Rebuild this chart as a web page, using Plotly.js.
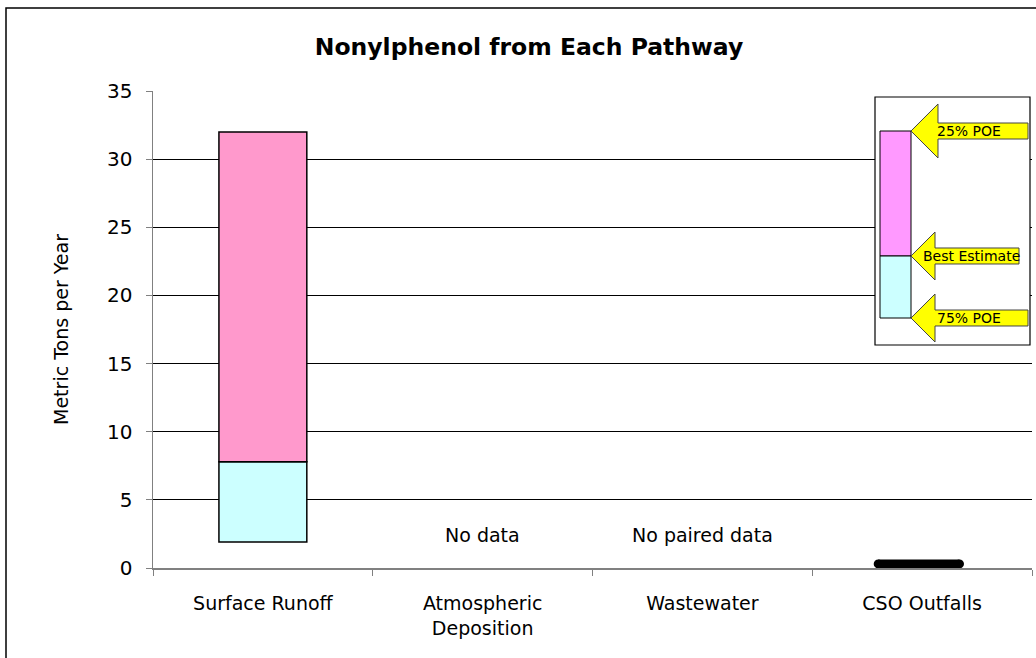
<!DOCTYPE html>
<html>
<head>
<meta charset="utf-8">
<script src="https://cdn.plot.ly/plotly-3.0.1.min.js"></script>
<style>html,body{margin:0;padding:0;background:#fff;}#chart{width:1036px;height:658px;}</style>
</head>
<body>
<div id="chart"></div>
<script>
// ---- data ----
var categories = ["Surface Runoff", "Atmospheric<br>Deposition", "Wastewater", "CSO Outfalls"];
var poe75 = [1.9, null, null, 0.3];        // 75% probability of exceedance (low)
var bestEstimate = [7.8, null, null, 0.3]; // best estimate
var poe25 = [32, null, null, 0.3];         // 25% probability of exceedance (high)
var noteLabels = ["", "No data", "No paired data", ""];
var noteY = [null, 2.4, 2.4, null];
var legendLabels = ["25% POE", "Best Estimate", "75% POE"];

// ---- layout helpers ----
var W = 1036, H = 658, L = 153, R = 4, T = 91, B = 90;
var PW = W - L - R, PH = H - T - B;
function px(x) { return (x - L) / PW; }
function py(y) { return (H - B - y) / PH; }
function path(pts) {
  return pts.map(function (p, i) { return (i ? "L" : "M") + px(p[0]).toFixed(5) + "," + py(p[1]).toFixed(5); }).join(" ") + " Z";
}
function arrow(tx, ty, hx, hh, sh, ex) {
  return path([[tx, ty], [hx, ty - hh], [hx, ty - sh], [ex, ty - sh], [ex, ty + sh], [hx, ty + sh], [hx, ty + hh]]);
}

// derived bar segments
var lowLen = [], highLen = [], bx = [], lowBase = [], midBase = [];
for (var i = 0; i < categories.length; i++) {
  if (poe75[i] !== null && poe25[i] - poe75[i] > 0.5) {
    bx.push(categories[i]);
    lowBase.push(poe75[i]);
    lowLen.push(bestEstimate[i] - poe75[i]);
    midBase.push(bestEstimate[i]);
    highLen.push(poe25[i] - bestEstimate[i]);
  }
}
// single-value pathway drawn as thick line
var lineX = [], lineY = [];
for (var j = 0; j < categories.length; j++) {
  if (poe75[j] !== null && poe25[j] - poe75[j] <= 0.5) {
    lineX.push(j - 0.2, j + 0.17, null);
    lineY.push(bestEstimate[j], bestEstimate[j], null);
  }
}

var FONT = "DejaVu Sans, Liberation Sans, Arial, sans-serif";

var traces = [
  { type: "bar", x: bx, y: lowLen, base: lowBase, width: 0.4, name: "75% POE to Best Estimate",
    marker: { color: "#CCFFFF", line: { color: "#000", width: 1.5 } }, hoverinfo: "skip" },
  { type: "bar", x: bx, y: highLen, base: midBase, width: 0.4, name: "Best Estimate to 25% POE",
    marker: { color: "#FF99CC", line: { color: "#000", width: 1.5 } }, hoverinfo: "skip" },
  { type: "scatter", mode: "lines+markers", x: lineX, y: lineY, xaxis: "x2", yaxis: "y",
    line: { color: "#000", width: 9 }, marker: { color: "#000", size: 9 }, hoverinfo: "skip" }
];

var annotations = [];
for (var k = 0; k < categories.length; k++) {
  if (noteLabels[k]) {
    annotations.push({ x: categories[k], y: noteY[k], xref: "x", yref: "y", text: noteLabels[k],
      xanchor: "center", yanchor: "middle",
      showarrow: false, font: { family: FONT, size: 19, color: "#000" } });
  }
}
var legendTextY = [131, 256, 318];
var legendTextX = [969, 971, 969];
for (var m = 0; m < legendLabels.length; m++) {
  annotations.push({ x: px(legendTextX[m]), y: py(legendTextY[m]), xref: "paper", yref: "paper",
    xanchor: "center", yanchor: "middle",
    text: legendLabels[m], showarrow: false, font: { family: FONT, size: 14, color: "#000" } });
}

var shapes = [
  // outer chart frame
  { type: "rect", xref: "paper", yref: "paper", x0: px(6), y0: py(8), x1: px(1050), y1: py(680),
    line: { color: "#000", width: 1.5 }, fillcolor: "rgba(0,0,0,0)", layer: "below" },
  // inset legend box
  { type: "rect", xref: "paper", yref: "paper", x0: px(875), y0: py(97), x1: px(1030), y1: py(345),
    line: { color: "#000", width: 1.2 }, fillcolor: "#fff" },
  { type: "rect", xref: "paper", yref: "paper", x0: px(880), y0: py(131), x1: px(911), y1: py(256),
    line: { color: "#000", width: 1 }, fillcolor: "#FF99FF" },
  { type: "rect", xref: "paper", yref: "paper", x0: px(880), y0: py(256), x1: px(911), y1: py(318),
    line: { color: "#000", width: 1 }, fillcolor: "#CCFFFF" },
  { type: "path", xref: "paper", yref: "paper", path: arrow(911, 131, 938, 27, 8, 1028),
    line: { color: "#444", width: 1 }, fillcolor: "#FFFF00" },
  { type: "path", xref: "paper", yref: "paper", path: arrow(911, 256, 935, 24, 8, 1019),
    line: { color: "#444", width: 1 }, fillcolor: "#FFFF00" },
  { type: "path", xref: "paper", yref: "paper", path: arrow(911, 318, 935, 24, 8, 1028),
    line: { color: "#444", width: 1 }, fillcolor: "#FFFF00" }
];

var layout = {
  width: W, height: H,
  margin: { l: L, r: R, t: T, b: B, pad: 0 },
  paper_bgcolor: "#fff", plot_bgcolor: "#fff",
  showlegend: false,
  barmode: "overlay",
  font: { family: FONT, color: "#000", size: 19 },
  title: { text: "<b>Nonylphenol from Each Pathway</b>", x: 529 / W, xref: "container", xanchor: "center",
    y: 1 - 47 / H, yref: "container", yanchor: "middle", font: { family: FONT, size: 23.5, color: "#000" } },
  xaxis: { type: "category", categoryorder: "array", categoryarray: categories, range: [-0.5, 3.5],
    tickson: "boundaries", ticks: "outside", ticklen: 6, tickcolor: "#808080", tickwidth: 1,
    showline: true, linecolor: "#808080", linewidth: 1.5, showgrid: false, zeroline: false,
    ticklabelstandoff: 18, tickfont: { family: FONT, size: 19, color: "#000" }, fixedrange: true },
  xaxis2: { overlaying: "x", range: [-0.5, 3.5], visible: false, fixedrange: true },
  yaxis: { range: [0, 35], dtick: 5, tick0: 0, ticks: "outside", ticklen: 6, tickcolor: "#808080",
    showline: true, linecolor: "#808080", linewidth: 1.5, showgrid: true, gridcolor: "#000", gridwidth: 1,
    zeroline: false, ticklabelstandoff: 9, tickfont: { family: FONT, size: 20, color: "#000" },
    title: { text: "Metric Tons per Year", standoff: 33, font: { family: FONT, size: 19, color: "#000" } },
    fixedrange: true },
  shapes: shapes,
  annotations: annotations
};

Plotly.newPlot("chart", traces, layout, { displayModeBar: false, staticPlot: true });
</script>
</body>
</html>
